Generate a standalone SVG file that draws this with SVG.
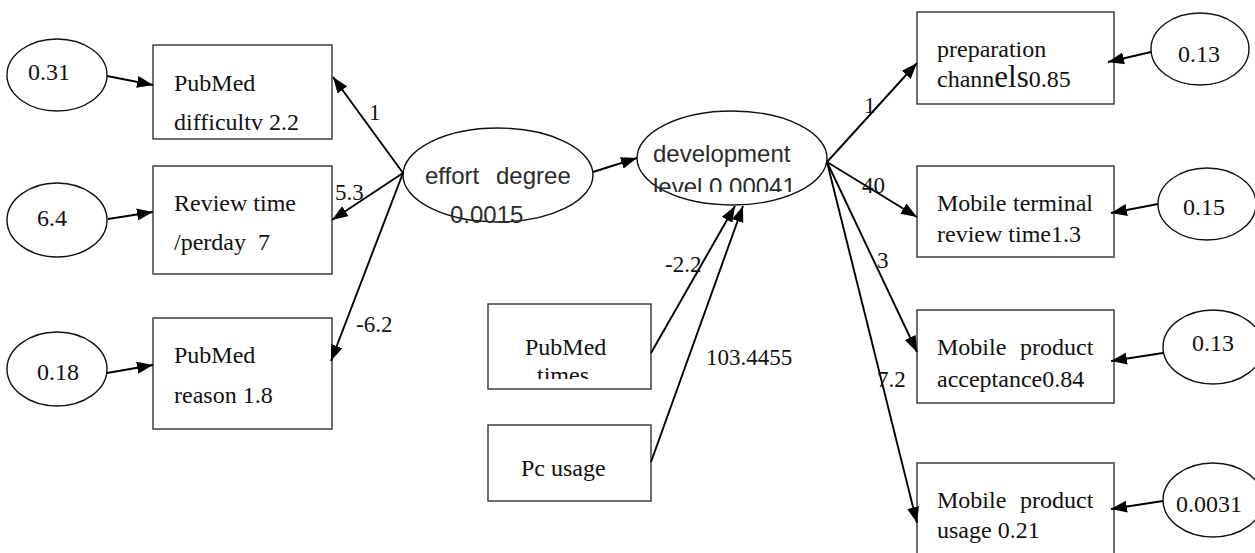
<svg xmlns="http://www.w3.org/2000/svg" width="1255" height="553" viewBox="0 0 1255 553">
  <style>
    .box { fill: #ffffff; stroke: #333333; stroke-width: 1.4; }
    .oval { fill: #ffffff; stroke: #111111; stroke-width: 1.4; }
    .edge { stroke: #000000; stroke-width: 1.9; fill: none; marker-end: url(#arrow); }
    .serif { font-family: "Liberation Serif", "Times New Roman", serif; font-size: 24px; fill: #111111; }
    .sans { font-family: "Liberation Sans", Arial, sans-serif; font-size: 24px; fill: #2b2b2b; }
    .lbl { font-family: "Liberation Serif", "Times New Roman", serif; font-size: 23px; fill: #111111; }
  </style>
  <defs>
    <marker id="arrow" viewBox="0 0 16 12" refX="16" refY="6" markerWidth="16" markerHeight="12" markerUnits="userSpaceOnUse" orient="auto">
      <path d="M0,0 L16,6 L0,12 z" fill="#000000"/>
    </marker>
    <clipPath id="clipDev"><rect x="600" y="100" width="240" height="92"/></clipPath>
    <clipPath id="clipTimes"><rect x="480" y="300" width="180" height="79"/></clipPath>
  </defs>
  <rect width="1255" height="553" fill="#ffffff"/>

  <!-- left error terms -->
  <g id="err-031">
    <ellipse class="oval" cx="57" cy="75" rx="50" ry="36"/>
    <text class="serif" x="28" y="80">0.31</text>
  </g>
  <g id="err-64">
    <ellipse class="oval" cx="57" cy="220" rx="50" ry="37"/>
    <text class="serif" x="37" y="226">6.4</text>
  </g>
  <g id="err-018">
    <ellipse class="oval" cx="57" cy="369" rx="50" ry="37"/>
    <text class="serif" x="37" y="380">0.18</text>
  </g>

  <!-- left indicators -->
  <g id="pubmed-difficulty">
    <rect class="box" x="153" y="45" width="179" height="94"/>
    <text class="serif" x="174" y="91">PubMed</text>
    <text class="serif" x="174" y="130">difficultv 2.2</text>
  </g>
  <g id="review-time">
    <rect class="box" x="153" y="166" width="179" height="108"/>
    <text class="serif" x="174" y="211">Review time</text>
    <text class="serif" x="174" y="250" xml:space="preserve">/perday  7</text>
  </g>
  <g id="pubmed-reason">
    <rect class="box" x="153" y="318" width="179" height="111"/>
    <text class="serif" x="174" y="363">PubMed</text>
    <text class="serif" x="174" y="403">reason 1.8</text>
  </g>

  <!-- latent variables -->
  <g id="effort-degree">
    <ellipse class="oval" cx="498" cy="175" rx="95" ry="47"/>
    <text class="sans" x="425" y="184" font-size="25px">effort</text>
    <text class="sans" x="496" y="184" font-size="25px">degree</text>
    <text class="sans" x="450" y="223" fill="#444444">0.0015</text>
  </g>
  <g id="development-level">
    <ellipse class="oval" cx="732" cy="158" rx="95" ry="47"/>
    <text class="sans" x="653" y="162">development</text>
    <text class="sans" x="653" y="195" clip-path="url(#clipDev)">level 0.00041</text>
  </g>

  <!-- covariates -->
  <g id="pubmed-times">
    <rect class="box" x="488" y="304" width="163" height="85"/>
    <text class="serif" x="525" y="355">PubMed</text>
    <text class="serif" x="537" y="383" clip-path="url(#clipTimes)">times</text>
  </g>
  <g id="pc-usage">
    <rect class="box" x="488" y="425" width="163" height="76"/>
    <text class="serif" x="521" y="476">Pc usage</text>
  </g>

  <!-- right indicators -->
  <g id="preparation-channels">
    <rect class="box" x="917" y="12" width="197" height="92"/>
    <text class="serif" x="937" y="57">preparation</text>
    <text class="serif" x="937" y="87">chann<tspan font-size="31px">els</tspan>0.85</text>
  </g>
  <g id="terminal-review-time">
    <rect class="box" x="917" y="166" width="197" height="91"/>
    <text class="serif" x="937" y="211">Mobile</text>
    <text class="serif" x="1013" y="211">terminal</text>
    <text class="serif" x="937" y="242">review time1.3</text>
  </g>
  <g id="product-acceptance">
    <rect class="box" x="917" y="310" width="197" height="93"/>
    <text class="serif" x="937" y="355">Mobile</text>
    <text class="serif" x="1020" y="355">product</text>
    <text class="serif" x="937" y="387">acceptance0.84</text>
  </g>
  <g id="product-usage">
    <rect class="box" x="917" y="463" width="197" height="100"/>
    <text class="serif" x="937" y="508">Mobile</text>
    <text class="serif" x="1020" y="508">product</text>
    <text class="serif" x="937" y="538">usage 0.21</text>
  </g>

  <!-- right error terms -->
  <g id="err-013-a">
    <ellipse class="oval" cx="1200" cy="49" rx="49" ry="36"/>
    <text class="serif" x="1178" y="62">0.13</text>
  </g>
  <g id="err-015">
    <ellipse class="oval" cx="1207" cy="204" rx="49" ry="36"/>
    <text class="serif" x="1183" y="215">0.15</text>
  </g>
  <g id="err-013-b">
    <ellipse class="oval" cx="1213" cy="347" rx="50" ry="37"/>
    <text class="serif" x="1192" y="351">0.13</text>
  </g>
  <g id="err-00031">
    <ellipse class="oval" cx="1213" cy="500" rx="50" ry="37"/>
    <text class="serif" x="1176" y="512">0.0031</text>
  </g>

  <!-- connectors -->
  <g id="connectors">
    <line class="edge" x1="107" y1="76" x2="153" y2="85"/>
    <line class="edge" x1="108" y1="219" x2="153" y2="212"/>
    <line class="edge" x1="107" y1="373" x2="153" y2="365"/>

    <line class="edge" x1="403" y1="173" x2="333" y2="77"/>
    <line class="edge" x1="403" y1="173" x2="332" y2="220"/>
    <line class="edge" x1="403" y1="173" x2="331" y2="361"/>

    <line class="edge" x1="593" y1="172" x2="637" y2="158"/>

    <line class="edge" x1="651" y1="353" x2="735" y2="206"/>
    <line class="edge" x1="651" y1="462" x2="743" y2="206"/>

    <line class="edge" x1="827" y1="162" x2="917" y2="63"/>
    <line class="edge" x1="827" y1="162" x2="917" y2="217"/>
    <line class="edge" x1="827" y1="162" x2="917" y2="352"/>
    <line class="edge" x1="827" y1="162" x2="917" y2="523"/>

    <line class="edge" x1="1151" y1="52" x2="1108" y2="62"/>
    <line class="edge" x1="1158" y1="204" x2="1111" y2="213"/>
    <line class="edge" x1="1163" y1="353" x2="1111" y2="361"/>
    <line class="edge" x1="1163" y1="501" x2="1111" y2="509"/>

    <!-- path coefficients -->
    <text class="lbl" x="369" y="120" font-size="16px">1</text>
    <text class="lbl" x="335" y="200">5.3</text>
    <text class="lbl" x="356" y="332">-6.2</text>
    <text class="lbl" x="665" y="272">-2.2</text>
    <text class="lbl" x="706" y="365">103.4455</text>
    <text class="lbl" x="864" y="113">1</text>
    <text class="lbl" x="862" y="193">40</text>
    <text class="lbl" x="877" y="268">3</text>
    <text class="lbl" x="877" y="387">7.2</text>
  </g>
</svg>
